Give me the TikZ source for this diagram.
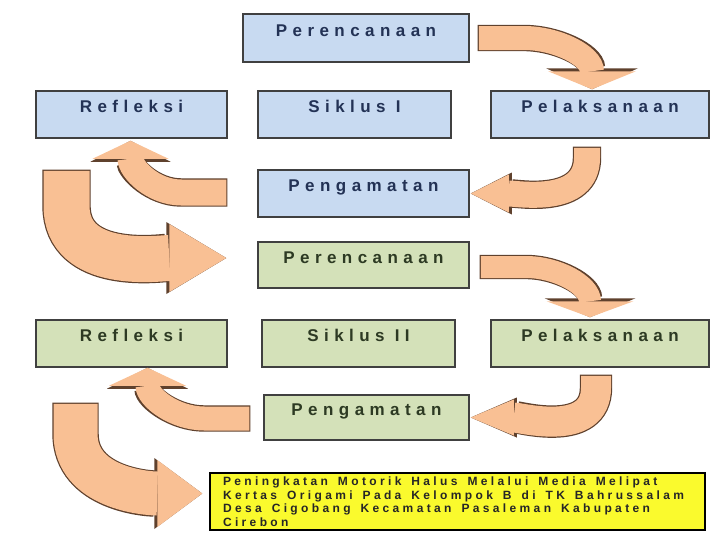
\documentclass[tikz,border=0pt]{standalone}
\usepackage{fontspec}
\setmainfont{Liberation Serif}
\newfontfamily\widefont[LetterSpace=32]{Liberation Sans Bold}
\newfontfamily\notefont[LetterSpace=28]{Liberation Sans Bold}
\newcommand\jarak{\hspace{6pt} }
\usetikzlibrary{arrows.meta}

\definecolor{boxblue}{RGB}{200,218,241}
\definecolor{boxgreen}{RGB}{212,225,185}
\definecolor{noteyellow}{RGB}{250,250,45}
\definecolor{peach}{RGB}{249,192,148}
\definecolor{peachline}{RGB}{95,65,45}
\definecolor{bluetext}{RGB}{35,50,85}
\definecolor{greentext}{RGB}{45,58,35}

\tikzset{
  stage/.style={draw=black!75, line width=1.5pt, inner sep=0pt, minimum height=47pt,
    text height=8pt, text depth=12pt, font=\widefont\fontsize{17}{20}\selectfont},
  stageone/.style={stage, fill=boxblue, text=bluetext},
  stagetwo/.style={stage, fill=boxgreen, text=greentext},
  bent/.style n args={5}{line width=#1, draw=peach, line cap=butt,
    -{Triangle[width=#2, length=#3, line width=0pt]},
    preaction={draw=peachline, line width=#1+2.4pt, shorten <=-1.2pt,
      -{Triangle[width=#4, length=#5, line width=0pt]}}},
}

\begin{document}
\begin{tikzpicture}[x=1pt,y=1pt]
\useasboundingbox (0,0) rectangle (711,-538);

% siklus I
\node[stageone, minimum width=226pt, minimum height=48pt] (per1) at (356,-38) {Perencanaan};
\node[stageone, minimum width=191pt] (ref1) at (131.5,-114.5) {Refleksi};
\node[stageone, minimum width=193pt] (sik1) at (354.5,-114.5) {Siklus I};
\node[stageone, minimum width=218pt] (pel1) at (600,-114.5) {Pelaksanaan};
\node[stageone, minimum width=211pt] (pen1) at (363.5,-193.5) {Pengamatan};

% siklus II
\node[stagetwo, minimum width=211pt, minimum height=46pt] (per2) at (363.5,-265) {Perencanaan};
\node[stagetwo, minimum width=191pt] (ref2) at (131.5,-343.5) {Refleksi};
\node[stagetwo, minimum width=193pt] (sik2) at (358.5,-343.5) {Siklus II};
\node[stagetwo, minimum width=218pt] (pel2) at (600,-343.5) {Pelaksanaan};
\node[stagetwo, minimum width=205pt, minimum height=45pt] (pen2) at (366.5,-417.5) {Pengamatan};

% hasil
\node[draw=black, line width=1.5pt, fill=noteyellow, text=black!85, minimum width=495pt,
  minimum height=57pt, inner xsep=13pt, inner ysep=2pt, text width=469pt, align=left,
  font=\notefont\fontsize{12}{13.5}\selectfont] (note) at (457.5,-501.5)
  {Peningkatan\jarak Motorik\jarak Halus\jarak Melalui\jarak Media\jarak Melipat\\
   Kertas\jarak Origami\jarak Pada\jarak Kelompok\jarak B\jarak di\jarak TK\jarak Bahrussalam\\
   Desa\jarak Cigobang\jarak Kecamatan\jarak Pasaleman\jarak Kabupaten\\
   Cirebon};

% panah siklus I
\draw[bent={24pt}{88pt}{18pt}{92pt}{21pt}] ([xshift=9pt]per1.east) -- ++(45,0)
  to[out=0,in=90] ([xshift=-8pt,yshift=1pt]pel1.north);
\draw[bent={26pt}{38pt}{38pt}{42pt}{41pt}] ([xshift=-13pt,yshift=-9pt]pel1.south) -- ++(0,-10)
  to[out=-90,in=0] ([xshift=1pt]pen1.east);
\draw[bent={26pt}{76pt}{18pt}{80pt}{21pt}] ([xshift=-31pt,yshift=1pt]pen1.west) -- ++(-45,0)
  to[out=180,in=-90] ([xshift=-1pt,yshift=-2pt]ref1.south);
\draw[bent={46pt}{68pt}{57pt}{72pt}{60pt}] ([xshift=-65pt,yshift=-32pt]ref1.south) -- ++(0,-35)
  to[out=-90,in=180] ([xshift=-31pt,yshift=7pt]per2.west);

% panah siklus II
\draw[bent={22pt}{87pt}{16pt}{91pt}{19pt}] ([xshift=11pt,yshift=-2pt]per2.east) -- ++(45,0)
  to[out=0,in=90] ([xshift=-10pt,yshift=2pt]pel2.north);
\draw[bent={30pt}{36pt}{43pt}{40pt}{46pt}] ([xshift=-4pt,yshift=-8pt]pel2.south) -- ++(0,-12)
  to[out=-90,in=0] ([xshift=1pt]pen2.east);
\draw[bent={24pt}{77pt}{18pt}{81pt}{21pt}] ([xshift=-14pt,yshift=-1pt]pen2.west) -- ++(-45,0)
  to[out=180,in=-90] ([xshift=16pt]ref2.south);
\draw[bent={44pt}{67pt}{45pt}{71pt}{48pt}] ([xshift=-56pt,yshift=-36pt]ref2.south) -- ++(0,-30)
  to[out=-90,in=180] ([xshift=-7pt,yshift=8pt]note.west);
\end{tikzpicture}
\end{document}
